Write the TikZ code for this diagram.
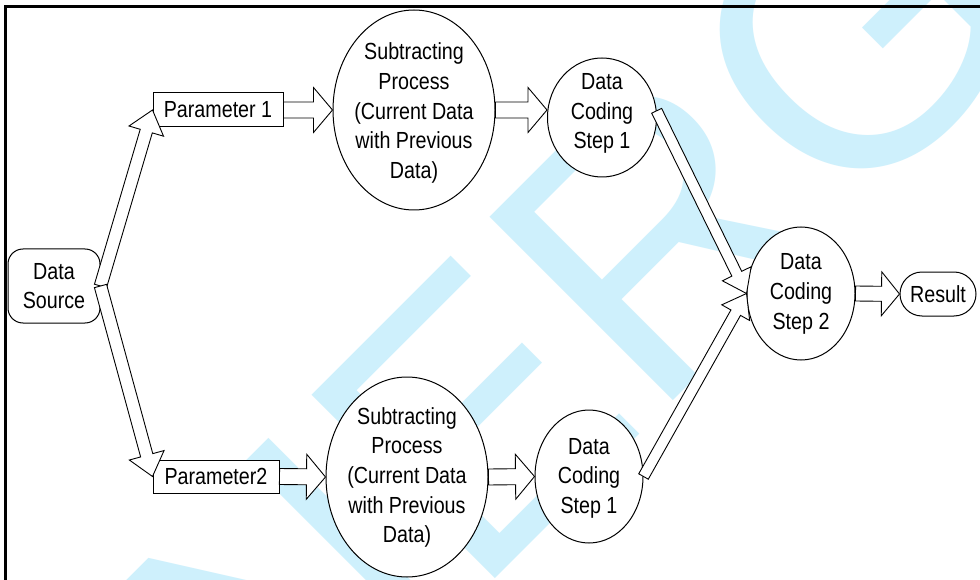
\documentclass[tikz,border=0pt]{standalone}
\usepackage{fontspec}
\setmainfont{Liberation Sans}[FakeStretch=0.845]
\newfontfamily\wmfont{Liberation Sans}
\usetikzlibrary{calc,shapes.geometric}
\definecolor{wmc}{RGB}{206,240,252}
\newcommand\diagfont{\fontsize{23.3}{29.6}\selectfont}
\tikzset{
  box/.style={draw, fill=white, line width=1pt, inner sep=0pt, align=center, font=\diagfont},
  rbox/.style={box, rounded corners=15pt},
  ell/.style={draw, fill=white, ellipse, line width=1pt, inner sep=0pt},
  txt/.style={align=center, inner sep=0pt, font=\diagfont},
  barrow/.style={draw, fill=white, line width=0.9pt, line join=miter},
  frameline/.style={line width=3pt},
}
% start, end, shaft half width, head half width, head length
\newcommand\blockarrow[5]{%
  \coordinate (ba-s) at (#1);
  \coordinate (ba-e) at (#2);
  \coordinate (ba-h) at ($(ba-e)!#5!(ba-s)$);
  \draw[barrow] ($(ba-s)!#3!90:(ba-e)$) -- ($(ba-h)!#3!90:(ba-e)$) -- ($(ba-h)!#4!90:(ba-e)$) -- (ba-e)
     -- ($(ba-h)!#4!-90:(ba-e)$) -- ($(ba-h)!#3!-90:(ba-e)$) -- ($(ba-s)!#3!-90:(ba-e)$) -- cycle;
}
\begin{document}
\begin{tikzpicture}[x=1pt,y=1pt]
\useasboundingbox (0,0) rectangle (980,-580);
\fill[white] (0,0) rectangle (980,-580);
% watermark
\begin{scope}
  \clip (0,0) rectangle (980,-580);
  \node[rotate=45, anchor=base west, inner sep=0pt, outer sep=0pt, text=wmc,
        font=\wmfont\fontsize{377}{377}\selectfont] (wm) at (103.5,-970.4) {ENERGY};
\end{scope}
% frame
\draw[frameline] (5.5,-580) -- (5.5,-6.5) -- (980,-6.5);

% nodes
\node[rbox, minimum width=92pt, minimum height=74pt] (src) at (54,-286) {Data\\Source};
\node[box, minimum width=130pt, minimum height=34pt] (p1) at (218,-110) {Parameter 1};
\node[box, minimum width=126pt, minimum height=33pt] (p2) at (216,-476.5) {Parameter2};
\node[ell, minimum width=162pt, minimum height=200pt] (e1) at (414,-110) {};
\node[txt] (e1t) at (414,-113) {Subtracting\\Process\\(Current Data\\with Previous\\Data)};
\node[ell, minimum width=109pt, minimum height=119pt] (d1) at (602,-117.5) {};
\node[txt] (d1t) at (602,-113.5) {Data\\Coding\\Step 1};
\node[ell, minimum width=162pt, minimum height=200pt] (e2) at (407,-477) {};
\node[txt] (e2t) at (407,-477.5) {Subtracting\\Process\\(Current Data\\with Previous\\Data)};
\node[ell, minimum width=108pt, minimum height=133pt] (d2) at (589,-476.5) {};
\node[txt] (d2t) at (589,-478) {Data\\Coding\\Step 1};
\node[ell, minimum width=108pt, minimum height=133pt] (d3) at (801,-293.5) {};
\node[txt] (d3t) at (801,-294) {Data\\Coding\\Step 2};
\node[box, rounded corners=22pt, minimum width=76pt, minimum height=44pt] (res) at (938,-294) {Result};

% block arrows
\blockarrow{src.east}{p1.west}{6.3pt}{18pt}{22pt}
\blockarrow{src.east}{p2.west}{6.3pt}{18pt}{22pt}
\blockarrow{p1.east}{e1.west}{8pt}{22.5pt}{19pt}
\blockarrow{e1.east}{e1.east -| d1.west}{8pt}{22.5pt}{19pt}
\blockarrow{p2.east}{e2.west}{8pt}{22.5pt}{19pt}
\blockarrow{e2.east}{d2.west}{8pt}{22.5pt}{19pt}
\blockarrow{d3.east}{res.west}{7.5pt}{22pt}{18pt}
\blockarrow{d1.7}{d3.west}{5.5pt}{16pt}{22pt}
\blockarrow{d2.east}{d3.west}{5.5pt}{16pt}{22pt}
\end{tikzpicture}
\end{document}
